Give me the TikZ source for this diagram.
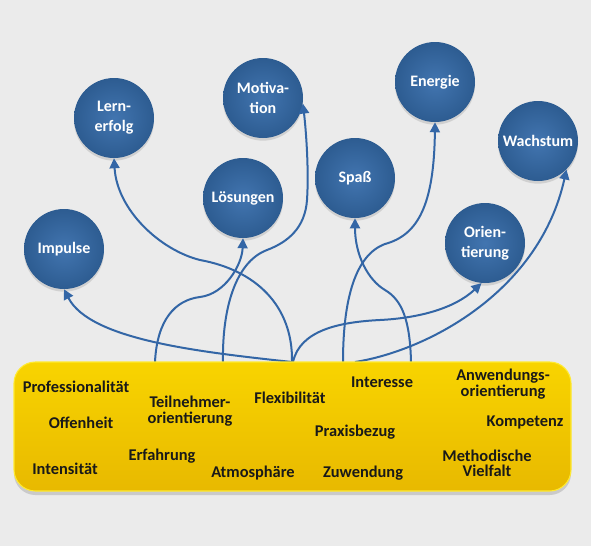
\documentclass[tikz,border=0pt]{standalone}
\usepackage{fontspec}
\setmainfont{Carlito}
\usetikzlibrary{arrows.meta,shadows}
\definecolor{bg}{HTML}{EBEBEB}
\definecolor{lineblue}{HTML}{3366A6}
\definecolor{ballin}{HTML}{4275B0}
\definecolor{ballout}{HTML}{2D5C91}
\definecolor{boxtop}{HTML}{F8D400}
\definecolor{boxmid}{HTML}{EFC300}
\definecolor{boxbot}{HTML}{E8B900}
\definecolor{boxrim}{HTML}{FFEA30}
\begin{document}
\begin{tikzpicture}[x=0.75pt,y=-0.75pt,
  ball/.style={circle,minimum size=60pt,inner sep=0pt,inner color=ballin,outer color=ballout,
    text=white,font=\bfseries\fontsize{12}{15}\selectfont,align=center,
    drop shadow={opacity=0.25,shadow xshift=0pt,shadow yshift=-2pt}},
  link/.style={draw=lineblue,line width=1.5pt,-{Triangle[length=7.5pt,width=7.5pt]}},
  word/.style={font=\bfseries\fontsize{12.3}{11.5}\selectfont,text=black!90,align=center,inner sep=0pt},
  yellowbox/.style={rounded corners=16pt,minimum width=417.75pt,minimum height=96.75pt,
    top color=boxtop,middle color=boxmid,bottom color=boxbot,draw=boxrim,line width=0.8pt,
    drop shadow={opacity=0.3,shadow xshift=0pt,shadow yshift=-3pt}}
]
\fill[bg] (0,0) rectangle (591,546);
\useasboundingbox (0,0) rectangle (591,546);

% circles
\node[ball] (impulse) at (64,249) {Impulse};
\node[ball] (lern) at (114,118) {Lern-\\erfolg};
\node[ball] (motiv) at (263,98) {Motiva-\\tion};
\node[ball] (los) at (243,198) {Lösungen};
\node[ball] (energie) at (435,82) {Energie};
\node[ball] (wach) at (538,141) {Wachstum};
\node[ball] (spass) at (355,178) {Spaß};
\node[ball] (orient) at (485,243) {Orien-\\tierung};

% start points on the box top
\coordinate (s1) at (292,362);
\coordinate (s2) at (155,362);
\coordinate (s3) at (223,362);
\coordinate (s4) at (293,362);
\coordinate (s5) at (343,362);
\coordinate (s6) at (411,362);
\coordinate (s7) at (355,362);

% connectors
\draw[link] (s1) .. controls (200,352) and (90,340) .. (impulse.-90);
\draw[link] (s1) .. controls (293,305) and (255,270) .. (200,260) .. controls (160,250) and (117,210) .. (lern.-90);
\draw[link] (s2) .. controls (157,320) and (175,300) .. (200,297) .. controls (225,294) and (242,265) .. (los.-90);
\draw[link] (s3) .. controls (222,310) and (235,262) .. (267,250) .. controls (288,242) and (305,228) .. (307,200) .. controls (309,170) and (306,130) .. (motiv.-8);
\draw[link] (s5) .. controls (343,300) and (355,255) .. (385,244) .. controls (418,235) and (434,205) .. (energie.-90);
\draw[link] (s6) .. controls (410,320) and (402,300) .. (385,290) .. controls (368,280) and (355,255) .. (spass.-90);
\draw[link] (s4) .. controls (300,330) and (340,322) .. (380,320) .. controls (420,318) and (455,308) .. (orient.-95);
\draw[link] (s7) .. controls (430,350) and (540,290) .. (wach.-45);

% box
\node[yellowbox] (box) at (292.5,426.5) {};
\node[word] (w1) at (76,387) {Professionalität};
\node[word] (w2) at (81,423) {Offenheit};
\node[word] (w3) at (65,469) {Intensität};
\node[word] (w4) at (190,411) {Teilnehmer-\\orientierung};
\node[word] (w5) at (162,456) {Erfahrung};
\node[word] (w6) at (253,473) {Atmosphäre};
\node[word] (w7) at (290,398) {Flexibilität};
\node[word] (w8) at (382,382) {Interesse};
\node[word] (w9) at (503,384) {Anwendungs-\\orientierung};
\node[word] (w10) at (525,422) {Kompetenz};
\node[word] (w11) at (355,432) {Praxisbezug};
\node[word] (w12) at (363,473) {Zuwendung};
\node[word] (w13) at (487,463) {Methodische\\Vielfalt};
\end{tikzpicture}
\end{document}
